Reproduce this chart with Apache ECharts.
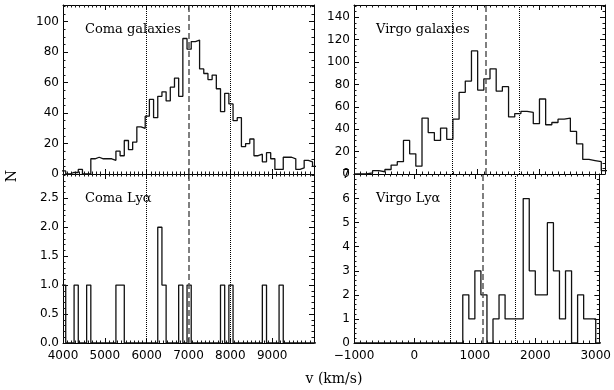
<!DOCTYPE html>
<html>
<head>
<meta charset="utf-8">
<script src="https://cdn.jsdelivr.net/npm/echarts@6/dist/echarts.min.js"></script>
<style>
  html, body { margin: 0; padding: 0; background: #fff; }
  #chart { width: 614px; height: 390px; }
</style>
</head>
<body>
<div id="chart"></div>
<script>
// velocity histograms, 100 km/s bins
const binWidth = 100
const comaBinStart = 3965
const virgoBinStart = -1000

const comaGalaxies = [
  2, 0, 1, 1, 3, 0, 0, 10, 11, 10,
  10, 10, 9, 15, 12, 22, 16, 21, 31, 30,
  38, 49, 37, 51, 54, 48, 57, 63, 51, 89,
  82, 87, 88, 69, 66, 62, 65, 56, 41, 53,
  46, 35, 37, 18, 20, 23, 12, 13, 8, 14,
  10, 3, 3, 11, 11, 10, 3, 4, 9, 8,
  5
]
const comaLya = [
  1, 0, 0, 1, 0, 0, 1, 0, 0, 0,
  0, 0, 0, 1, 1, 0, 0, 0, 0, 0,
  0, 0, 0, 2, 1, 0, 0, 0, 1, 0,
  1, 0, 0, 0, 0, 0, 0, 0, 1, 0,
  1, 0, 0, 0, 0, 0, 0, 0, 1, 0,
  0, 0, 1, 0, 0, 0, 0, 0, 0, 0,
  0
]
const virgoGalaxies = [
  0, 0, 1, 3, 2, 4, 8, 11, 30, 18,
  7, 50, 37, 30, 41, 31, 49, 73, 83, 110,
  75, 85, 94, 74, 78, 51, 54, 56, 55, 45,
  67, 44, 46, 49, 50, 38, 27, 13, 12, 11,
  3
]
const virgoLya = [
  0, 0, 0, 0, 0, 0, 0, 0, 0, 0,
  0, 0, 0, 0, 0, 0, 0, 0, 2, 1,
  3, 2, 0, 1, 2, 1, 1, 1, 6, 3,
  2, 2, 5, 3, 1, 3, 0, 2, 1, 1,
  0
]

// mean (dashed) and +-1 sigma (dotted)
const comaMean = 6995
const comaSigma = [5995, 7995]
const virgoMean = 1128
const virgoSigma = [585, 1670]

// axis ranges, last labelled x tick
const comaRange = [4000, 10000]
const virgoRange = [-1000, 3060]
const xLastLabel = [9000, 3000]
const comaGalY = [0, 111]
const comaLyaY = [0, 2.92]
const virgoGalY = [0, 151]
const virgoLyaY = [0, 7.02]

const panelTitles = ['Coma galaxies', 'Coma Ly\u03b1', 'Virgo galaxies', 'Virgo Ly\u03b1']

const black = '#000'
// ticks get their own near-black colours so they are not merged with the axis line
const tickColor = '#0b0b0b'
const minorColor = '#161616'
const tickFont = 'DejaVu Sans'

// grid boxes (top-left, bottom-left, top-right, bottom-right)
const grids = [
  { left: 63, top: 5, width: 251, height: 169 },
  { left: 63, top: 174, width: 251, height: 169 },
  { left: 354, top: 5, width: 251, height: 169 },
  { left: 354, top: 174, width: 251, height: 169 },
]

// 直方图的台阶点
const stepData = (start, counts) => {
  const pts = counts.map((c, i) => [start + i * binWidth, c])
  pts.push([start + counts.length * binWidth, counts[counts.length - 1]])
  return pts
}

const axisBase = (g, range, interval, minor) => ({
  gridIndex: g,
  type: 'value',
  min: range[0],
  max: range[1],
  interval,
  axisLine: { show: true, onZero: false, lineStyle: { color: black, width: 1 } },
  axisTick: { show: true, inside: true, length: 5, lineStyle: { color: tickColor, width: 1 } },
  minorTick: { show: true, splitNumber: minor, length: 2.5, lineStyle: { color: minorColor, width: 1 } },
  splitLine: { show: false },
  minorSplitLine: { show: false },
})

const xAxis = []
const yAxis = []

const addAxes = (g, xRange, lastX, showX, yRange, yInterval, yMinor, decimals) => {
  const lastY = Math.floor(yRange[1] / yInterval + 1e-9) * yInterval
  xAxis.push({
    ...axisBase(g, xRange, 1000, 10),
    position: 'bottom',
    axisLabel: {
      show: showX,
      margin: 7,
      color: black,
      fontFamily: tickFont,
      fontSize: 12,
      formatter: (v) => (v > lastX ? '' : String(v).replace('-', '\u2212')),
    },
  })
  xAxis.push({ ...axisBase(g, xRange, 1000, 10), position: 'top', axisLabel: { show: false } })
  yAxis.push({
    ...axisBase(g, yRange, yInterval, yMinor),
    position: 'left',
    axisLabel: {
      margin: 4,
      color: black,
      fontFamily: tickFont,
      fontSize: 12,
      formatter: (v) => (v > lastY + 1e-9 ? '' : v.toFixed(decimals)),
    },
  })
  yAxis.push({ ...axisBase(g, yRange, yInterval, yMinor), position: 'right', axisLabel: { show: false } })
}

addAxes(0, comaRange, xLastLabel[0], false, comaGalY, 20, 4, 0)
addAxes(1, comaRange, xLastLabel[0], true, comaLyaY, 0.5, 5, 1)
addAxes(2, virgoRange, xLastLabel[1], false, virgoGalY, 20, 4, 0)
addAxes(3, virgoRange, xLastLabel[1], true, virgoLyaY, 1, 5, 0)

const refLines = (mean, sigma) => ({
  symbol: 'none',
  label: { show: false },
  data: [
    { xAxis: mean, lineStyle: { type: 'dashed', color: '#555', width: 1.5 } },
    { xAxis: sigma[0], lineStyle: { type: 'dotted', color: black, width: 1 } },
    { xAxis: sigma[1], lineStyle: { type: 'dotted', color: black, width: 1 } },
  ],
})

const histSeries = (g, start, counts, mean, sigma) => ({
  type: 'line',
  xAxisIndex: g * 2,
  yAxisIndex: g * 2,
  data: stepData(start, counts),
  step: 'end',
  symbol: 'none',
  lineStyle: { color: '#111', width: 1.3 },
  markLine: refLines(mean, sigma),
})

const titleText = (g) => ({
  type: 'text',
  left: grids[g].left + 22,
  top: grids[g].top + 18,
  style: { text: panelTitles[g], font: '13px "DejaVu Serif"', fill: black },
})

const chart = echarts.init(document.getElementById('chart'))
chart.setOption({
  animation: false,
  grid: grids,
  xAxis,
  yAxis,
  series: [
    histSeries(0, comaBinStart, comaGalaxies, comaMean, comaSigma),
    histSeries(1, comaBinStart, comaLya, comaMean, comaSigma),
    histSeries(2, virgoBinStart, virgoGalaxies, virgoMean, virgoSigma),
    histSeries(3, virgoBinStart, virgoLya, virgoMean, virgoSigma),
  ],
  graphic: [
    titleText(0),
    titleText(1),
    titleText(2),
    titleText(3),
    {
      type: 'group',
      x: 12,
      y: 176,
      rotation: Math.PI / 2,
      children: [
        {
          type: 'text',
          style: { text: 'N', font: '14px "DejaVu Serif"', fill: black, align: 'center', verticalAlign: 'middle' },
        },
      ],
    },
    {
      type: 'text',
      x: 334,
      y: 379,
      style: { text: 'v (km/s)', font: '14px "DejaVu Serif"', fill: black, align: 'center', verticalAlign: 'middle' },
    },
  ],
})
</script>
</body>
</html>
